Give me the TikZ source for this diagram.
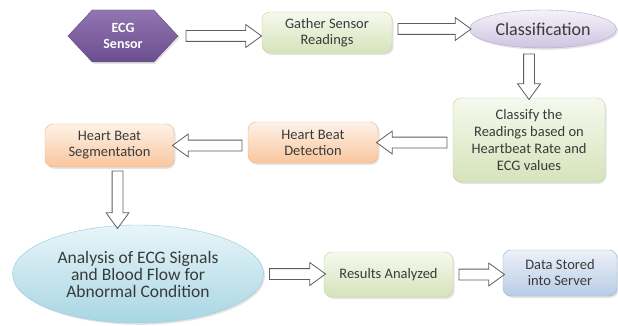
\documentclass[tikz,border=0pt]{standalone}
\usepackage{fontspec}
\setmainfont{Carlito}
\usetikzlibrary{shapes.geometric,shapes.arrows,shapes.symbols,shadows,calc}
\definecolor{txt}{HTML}{3A3A3A}
\definecolor{arr}{HTML}{5E5E5E}
\tikzset{
  box/.style={rectangle, rounded corners=8pt, inner sep=2pt, align=center, text=txt,
    font=\fontsize{14.5}{16}\selectfont,
    drop shadow={opacity=0.22, shadow xshift=1.5pt, shadow yshift=-1.8pt}},
  greenbox/.style={box, draw={rgb,255:red,196;green,214;blue,155}, top color={rgb,255:red,246;green,249;blue,238}, bottom color={rgb,255:red,214;green,227;blue,186}},
  peachbox/.style={box, draw={rgb,255:red,243;green,180;blue,133}, top color={rgb,255:red,254;green,242;blue,232}, bottom color={rgb,255:red,249;green,198;blue,157}},
  bluebox/.style={box, draw={rgb,255:red,150;green,178;blue,214}, top color={rgb,255:red,236;green,241;blue,249}, bottom color={rgb,255:red,184;green,204;blue,229}},
  barrow/.style={single arrow, draw=arr, fill=white, line width=0.8pt, inner xsep=0pt, inner ysep=5pt,
    single arrow head extend=6pt, single arrow tip angle=72,
    single arrow head indent=0pt},
}
\newcommand\blk[3][2]{\path let \p1=(#2), \p2=(#3), \n1={veclen(\x2-\x1,\y2-\y1)-2*#1} in
  (\p1) -- (\p2) node[barrow, midway, sloped, allow upside down, minimum height=\n1] {};}
\begin{document}
\begin{tikzpicture}[x=1pt,y=-1pt]
\useasboundingbox[fill=white] (0,0) rectangle (618,326);

\node[signal, signal to=east and west, signal pointer angle=94, minimum width=110pt, minimum height=52pt,
  inner sep=0pt, draw={rgb,255:red,96;green,72;blue,128}, top color={rgb,255:red,146;green,118;blue,178},
  bottom color={rgb,255:red,106;green,78;blue,142}, text=white, align=center,
  font=\bfseries\fontsize{14}{16}\selectfont,
  drop shadow={opacity=0.22, shadow xshift=1.5pt, shadow yshift=-1.8pt}] (hex) at (123,36) {ECG\\Sensor};

\node[greenbox, minimum width=130pt, minimum height=41pt] (gather) at (327,32.5) {Gather Sensor\\Readings};

\node[ellipse, inner sep=0pt, minimum width=147pt, minimum height=38pt, text=txt,
  font=\fontsize{18}{20}\selectfont, draw={rgb,255:red,180;green,166;blue,210},
  top color={rgb,255:red,245;green,242;blue,249}, bottom color={rgb,255:red,206;green,196;blue,226},
  drop shadow={opacity=0.22, shadow xshift=1.5pt, shadow yshift=-1.8pt}] (cls) at (543,29) {Classification};

\node[greenbox, minimum width=152pt, minimum height=84pt, font=\fontsize{14.5}{17}\selectfont] (classify) at (529,140)
  {Classify the\\Readings based on\\Heartbeat Rate and\\ECG values};

\node[peachbox, minimum width=130pt, minimum height=41pt] (detect) at (313,142.5) {Heart Beat\\Detection};

\node[peachbox, minimum width=129pt, minimum height=43pt] (seg) at (109.5,145.5) {Heart Beat\\Segmentation};

\node[ellipse, inner sep=0pt, minimum width=251pt, minimum height=98pt, text=txt, align=center,
  font=\fontsize{17.5}{17}\selectfont, draw={rgb,255:red,146;green,204;blue,220},
  top color={rgb,255:red,232;green,245;blue,249}, bottom color={rgb,255:red,168;green,214;blue,228},
  drop shadow={opacity=0.22, shadow xshift=1.5pt, shadow yshift=-1.8pt}] (ana) at (138,274)
  {Analysis of ECG Signals\\and Blood Flow for\\Abnormal Condition};

\node[greenbox, minimum width=129pt, minimum height=45pt] (res) at (388.5,274.5) {Results Analyzed};

\node[bluebox, minimum width=114pt, minimum height=46pt] (data) at (560,273) {Data Stored\\into Server};

\coordinate (s6) at ($(seg.south)+(8,0)$);

\blk[4]{hex.east}{hex.east -| gather.west}
\blk{cls.west -| gather.east}{cls.west}
\blk{cls.south -| classify.north}{classify.north}
\blk{detect.east -| classify.west}{detect.east}
\blk{seg.east -| detect.west}{seg.east}
\blk[0]{s6}{s6 |- ana.north}
\blk{ana.east}{ana.east -| res.west}
\blk{res.east}{res.east -| data.west}
\end{tikzpicture}
\end{document}
